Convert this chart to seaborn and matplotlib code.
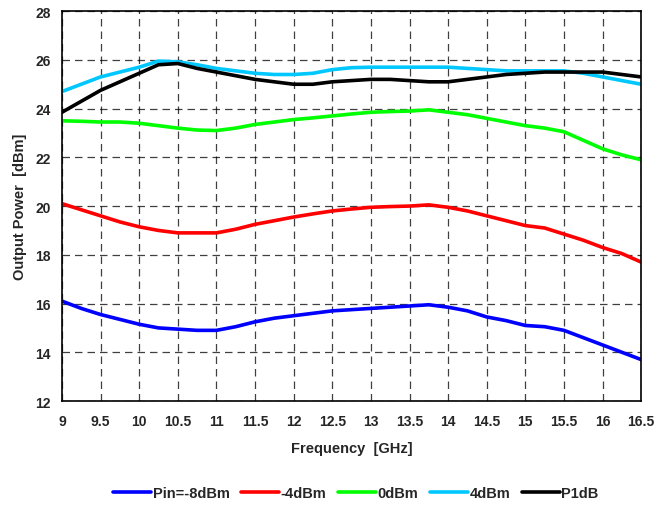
import pandas as pd
import matplotlib.pyplot as plt
import seaborn as sns

# Frequency points (GHz)
freq = [9, 9.25, 9.5, 9.75, 10, 10.25, 10.5, 10.75, 11, 11.25, 11.5, 11.75, 12, 12.25, 12.5,
        12.75, 13, 13.25, 13.5, 13.75, 14, 14.25, 14.5, 14.75, 15, 15.25, 15.5, 15.75, 16, 16.25, 16.5]

# Output power (dBm) per input drive
pin_m8 = [16.1, 15.8, 15.55, 15.35, 15.15, 15.0, 14.95, 14.9, 14.9, 15.05, 15.25, 15.4, 15.5, 15.6, 15.7,
          15.75, 15.8, 15.85, 15.9, 15.95, 15.85, 15.7, 15.45, 15.3, 15.1, 15.05, 14.9, 14.6, 14.3, 14.0, 13.7]
pin_m4 = [20.1, 19.85, 19.6, 19.35, 19.15, 19.0, 18.9, 18.9, 18.9, 19.05, 19.25, 19.4, 19.55, 19.68, 19.8,
          19.88, 19.95, 19.98, 20.0, 20.05, 19.95, 19.8, 19.6, 19.4, 19.2, 19.1, 18.85, 18.6, 18.3, 18.05, 17.7]
pin_0 = [23.5, 23.48, 23.45, 23.45, 23.4, 23.3, 23.2, 23.12, 23.1, 23.2, 23.35, 23.45, 23.55, 23.62, 23.7,
         23.78, 23.85, 23.88, 23.9, 23.95, 23.85, 23.75, 23.6, 23.45, 23.3, 23.2, 23.05, 22.7, 22.35, 22.1, 21.9]
pin_4 = [24.7, 25.0, 25.3, 25.5, 25.7, 25.95, 25.92, 25.8, 25.65, 25.55, 25.45, 25.4, 25.4, 25.45, 25.6,
         25.68, 25.7, 25.7, 25.7, 25.7, 25.7, 25.65, 25.6, 25.55, 25.55, 25.55, 25.55, 25.45, 25.3, 25.15, 25.0]
p1db = [23.85, 24.3, 24.75, 25.1, 25.45, 25.8, 25.85, 25.65, 25.5, 25.35, 25.2, 25.1, 25.0, 25.0, 25.1,
        25.15, 25.2, 25.2, 25.15, 25.1, 25.1, 25.2, 25.3, 25.4, 25.45, 25.5, 25.5, 25.5, 25.5, 25.4, 25.3]

labels = ['Pin=-8dBm', '-4dBm', '0dBm', '4dBm', 'P1dB']
colors = ['#0000ff', '#ff0000', '#00ff00', '#00c8ff', '#000000']

rows = []
for lab, vals in zip(labels, [pin_m8, pin_m4, pin_0, pin_4, p1db]):
    for f, v in zip(freq, vals):
        rows.append({'Frequency': f, 'Power': v, 'Series': lab})
df = pd.DataFrame(rows)

sns.set_style('white')
plt.rcParams['font.family'] = ['Liberation Sans', 'DejaVu Sans']
plt.rcParams['font.weight'] = 'bold'

fig = plt.figure(figsize=(6.59, 5.06), dpi=100)
ax = fig.add_axes([0.094, 0.2055, 0.879, 0.7705])

sns.lineplot(data=df, x='Frequency', y='Power', hue='Series', hue_order=labels,
             palette=colors, linewidth=2.6, ax=ax, legend=True)

ax.set_xlim(9, 16.5)
ax.set_ylim(12, 28)
ax.set_xticks([9 + 0.5 * i for i in range(16)])
ax.set_xticklabels(['9', '9.5', '10', '10.5', '11', '11.5', '12', '12.5', '13', '13.5',
                    '14', '14.5', '15', '15.5', '16', '16.5'])
ax.set_yticks(range(12, 29, 2))
ax.tick_params(axis='both', labelsize=10, length=4, direction='in', color='black')
ax.tick_params(axis='x', pad=9)
ax.tick_params(axis='y', pad=8)
for lbl in ax.get_xticklabels() + ax.get_yticklabels():
    lbl.set_fontweight('bold')
ax.grid(True, color='black', linestyle=(0, (6, 4)), linewidth=0.9, alpha=0.75)
for s in ax.spines.values():
    s.set_color('black')
    s.set_linewidth(1.2)

ax.set_xlabel('Frequency  [GHz]', fontsize=10.5, fontweight='bold', labelpad=10)
ax.set_ylabel('Output Power  [dBm]', fontsize=10.5, fontweight='bold', labelpad=6)

handles, _ = ax.get_legend_handles_labels()
ax.get_legend().remove()
fig.legend(handles, labels, loc='center', bbox_to_anchor=(0.54, 0.024), ncol=5, frameon=False,
           handlelength=2.6, handletextpad=0.1, columnspacing=0.8, prop={'weight': 'bold', 'size': 10.5})

fig.savefig('out.png', dpi=100)
